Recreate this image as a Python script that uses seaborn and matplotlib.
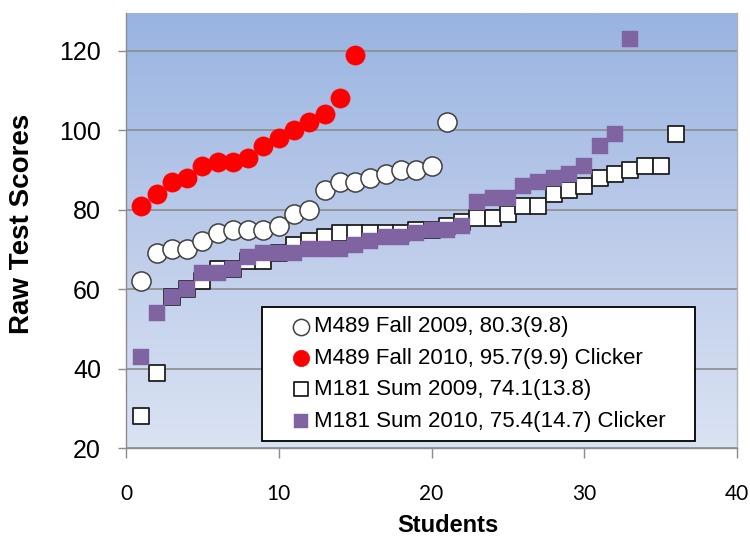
import numpy as np
import pandas as pd
import seaborn as sns
import matplotlib.pyplot as plt
from matplotlib.colors import LinearSegmentedColormap
from matplotlib.patches import Rectangle

# scores, sorted per class
m489_fall2009 = [62, 69, 70, 70, 72, 74, 75, 75, 75, 76, 79, 80, 85, 87, 87, 88, 89, 90, 90, 91, 102]
m489_fall2010 = [81, 84, 87, 88, 91, 92, 92, 93, 96, 98, 100, 102, 104, 108, 119]
m181_sum2009 = [28, 39, 58, 60, 62, 65, 65, 67, 67, 69, 71, 72, 73, 74, 74, 74, 74, 74, 75, 75,
                76, 77, 78, 78, 79, 81, 81, 84, 85, 86, 88, 89, 90, 91, 91, 99]
m181_sum2010 = [43, 54, 58, 60, 64, 64, 65, 68, 69, 69, 69, 70, 70, 70, 71, 72, 73, 73, 74, 75,
                75, 76, 82, 83, 83, 86, 87, 88, 89, 91, 96, 99, 123]
series_labels = ['M489 Fall 2009, 80.3(9.8)',
                 'M489 Fall 2010, 95.7(9.9) Clicker',
                 'M181 Sum 2009, 74.1(13.8)',
                 'M181 Sum 2010, 75.4(14.7) Clicker']
x_ticks = [0, 10, 20, 30, 40]
y_ticks = [20, 40, 60, 80, 100, 120]

frames = []
for lab, vals in zip(series_labels, [m489_fall2009, m489_fall2010, m181_sum2009, m181_sum2010]):
    frames.append(pd.DataFrame({'Students': np.arange(1, len(vals) + 1), 'Score': vals, 'group': lab}))
df = pd.concat(frames)

sns.set_style('white')
plt.rcParams['font.family'] = ['Liberation Sans', 'DejaVu Sans']
plt.rcParams['text.color'] = 'black'
plt.rcParams['axes.labelcolor'] = 'black'
plt.rcParams['xtick.labelcolor'] = 'black'
plt.rcParams['ytick.labelcolor'] = 'black'

fig = plt.figure(figsize=(7.5, 5.39), dpi=100)
ax = fig.add_axes([126 / 750, 91 / 539, 611 / 750, 435 / 539])

ytop = 129.5
ax.set_xlim(0, 40)
ax.set_ylim(20, ytop)

# blue gradient plot area
grad = LinearSegmentedColormap.from_list('bg', ['#dae3f3', '#bccbea', '#99b4e1'])
ax.imshow(np.linspace(0, 1, 256).reshape(-1, 1), cmap=grad, origin='lower',
          extent=[0, 40, 20, ytop], aspect='auto', zorder=0)

styles = {
    series_labels[0]: dict(marker='o', s=190, color='white', edgecolor='#404040', linewidth=1.1),
    series_labels[1]: dict(marker='o', s=190, color='#ff0000', edgecolor='#ff0000', linewidth=0.5),
    series_labels[2]: dict(marker='s', s=125, color='white', edgecolor='#202020', linewidth=1.3),
    series_labels[3]: dict(marker='s', s=145, color='#8064a2', edgecolor='#8064a2', linewidth=0.3),
}
for lab in series_labels:
    sub = df[df['group'] == lab]
    sns.scatterplot(data=sub, x='Students', y='Score', ax=ax, label=lab, zorder=3, **styles[lab])

ax.set_xticks(x_ticks)
ax.set_yticks(y_ticks)
ax.grid(axis='y', color='#8c8c8c', linewidth=1.2)
ax.grid(axis='x', visible=False)
ax.set_axisbelow(True)

for side in ['left', 'bottom']:
    ax.spines[side].set_color('#8c8c8c')
    ax.spines[side].set_linewidth(1.0)
ax.spines['top'].set_visible(False)
ax.spines['right'].set_color('#b0b0b0')
ax.spines['right'].set_linewidth(1.0)

ax.tick_params(axis='x', direction='out', length=7, width=1, color='#8c8c8c', pad=19,
               labelsize=15, labelcolor='black', bottom=True)
ax.tick_params(axis='y', direction='out', length=6, width=1, color='#8c8c8c', pad=12,
               labelsize=18, labelcolor='black', left=True)
for t in ax.get_xticklabels():
    t.set_family(['Lato', 'DejaVu Sans'])

ax.set_xlabel('Students', fontsize=17, fontweight='bold', color='black')
ax.xaxis.label.set_va('center')
ax.xaxis.set_label_coords((448 - 126) / 611, (448 - 526) / 435)
ax.set_ylabel('Raw Test Scores', fontsize=20, fontweight='bold', color='black')
ax.yaxis.label.set_va('center')
ax.yaxis.set_label_coords((22 - 126) / 611, (448 - 224) / 435)

# legend box drawn separately, legend entries placed inside
box = Rectangle(((262 - 126) / 611, (448 - 441) / 435), 433 / 611, 134 / 435,
                transform=ax.transAxes, facecolor='white', edgecolor='black',
                linewidth=1.3, zorder=4)
ax.add_patch(box)
leg = ax.legend(loc='center left', bbox_to_anchor=((290 - 126) / 611, (448 - 374) / 435),
                frameon=False, fontsize=16, handlelength=1.0, handletextpad=0.1,
                borderpad=0, labelspacing=0.47, markerscale=0.85, borderaxespad=0)
for txt in leg.get_texts():
    txt.set_color('black')
leg.set_zorder(5)

fig.savefig('out.png', dpi=100)
